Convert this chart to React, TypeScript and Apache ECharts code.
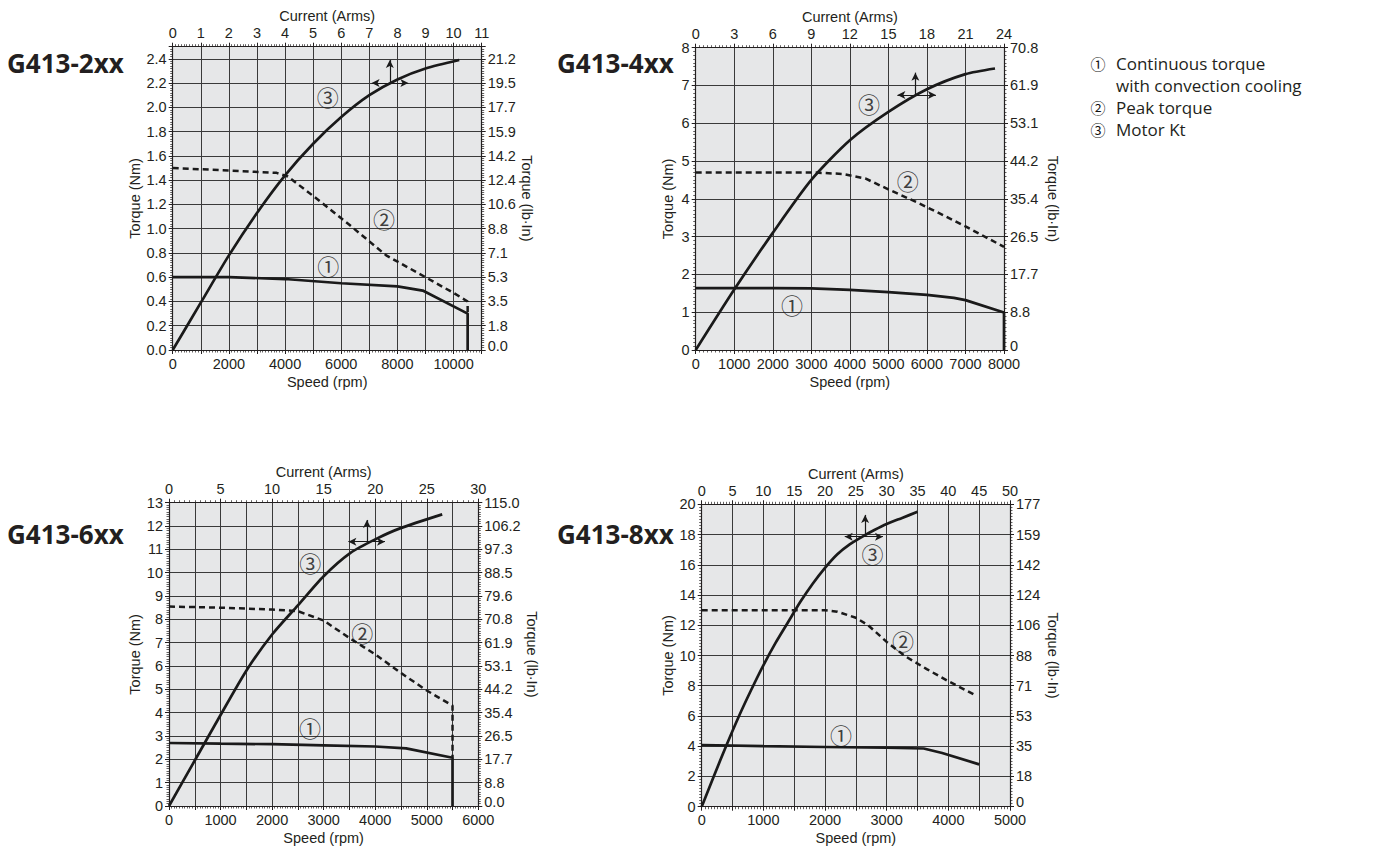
import React, { useEffect, useRef } from 'react';
import * as echarts from 'echarts';

// ---------- data ----------
const chartTitles = ['G413-2xx', 'G413-4xx', 'G413-6xx', 'G413-8xx'];
const speedMax = [11000, 8000, 6000, 5000];
const speedGridStep = [1000, 1000, 500, 500];
const speedLabelStep = [2000, 1000, 1000, 1000];
const currentMax = [11, 24, 30, 50];
const currentStep = [1, 3, 5, 5];
const torqueMax = [2.5, 8, 13, 20];
const torqueStep = [0.2, 1, 1, 2];
const torqueDecimals = [1, 0, 0, 0];

const lbIn2xx = ['0.0', '1.8', '3.5', '5.3', '7.1', '8.8', '10.6', '12.4', '14.2', '15.9', '17.7', '19.5', '21.2'];
const lbIn4xx = ['0', '8.8', '17.7', '26.5', '35.4', '44.2', '53.1', '61.9', '70.8'];
const lbIn6xx = ['0.0', '8.8', '17.7', '26.5', '35.4', '44.2', '53.1', '61.9', '70.8', '79.6', '88.5', '97.3', '106.2', '115.0'];
const lbIn8xx = ['0', '18', '35', '53', '71', '88', '106', '124', '142', '159', '177'];
const lbInLabels = [lbIn2xx, lbIn4xx, lbIn6xx, lbIn8xx];

// [speed rpm, torque Nm]
const cont2xx = [[0, 0.6], [2000, 0.6], [4000, 0.585], [6000, 0.55], [8000, 0.525], [8900, 0.49], [10500, 0.3], [10500, 0]];
const peak2xx = [[0, 1.5], [2000, 1.48], [3700, 1.46], [4100, 1.43], [5000, 1.27], [6300, 1.03], [7600, 0.78], [9000, 0.6], [10000, 0.47], [10500, 0.4], [10500, 0.3]];
// [current A, torque Nm]
const kt2xx = [[0, 0], [1, 0.39], [2, 0.78], [3, 1.13], [4, 1.44], [5, 1.7], [6, 1.92], [7, 2.1], [8, 2.23], [9, 2.32], [10.2, 2.39]];

const cont4xx = [[0, 1.64], [2000, 1.64], [3000, 1.63], [4000, 1.59], [5000, 1.53], [6000, 1.46], [6700, 1.38], [7000, 1.32], [8000, 0.99], [8000, 0]];
const peak4xx = [[0, 4.7], [1000, 4.7], [2000, 4.7], [3000, 4.7], [3800, 4.66], [4400, 4.54], [5000, 4.25], [5800, 3.88], [6500, 3.53], [7000, 3.27], [8000, 2.73]];
const kt4xx = [[0, 0], [3, 1.6], [6, 3.1], [9, 4.5], [12, 5.55], [15, 6.3], [18, 6.9], [21, 7.3], [23.3, 7.45]];

const cont6xx = [[0, 2.7], [1000, 2.67], [2000, 2.65], [3000, 2.6], [4000, 2.55], [4600, 2.47], [5500, 2.07], [5500, 0]];
const peak6xx = [[0, 8.55], [1000, 8.5], [2000, 8.42], [2500, 8.35], [3000, 7.95], [3500, 7.2], [4000, 6.5], [4500, 5.7], [5000, 4.95], [5500, 4.3], [5500, 2.07]];
const kt6xx = [[0, 0], [2.5, 1.95], [5, 3.9], [7.5, 5.8], [10, 7.35], [12.5, 8.6], [15, 9.85], [17.6, 10.85], [20.1, 11.45], [22.4, 11.9], [26.5, 12.5]];

const cont8xx = [[0, 4.08], [1000, 4.0], [2000, 3.95], [3000, 3.9], [3600, 3.85], [3900, 3.55], [4500, 2.8]];
const peak8xx = [[0, 13.0], [1000, 13.0], [2000, 13.0], [2200, 12.9], [2500, 12.5], [2700, 12.0], [3000, 10.9], [3300, 9.95], [3650, 9.1], [4000, 8.3], [4450, 7.35]];
const kt8xx = [[0, 0], [2, 2.05], [4, 4.05], [6, 5.95], [8, 7.7], [10, 9.35], [12, 10.85], [14, 12.2], [16, 13.55], [18, 14.75], [20, 15.8], [22, 16.7], [24, 17.35], [26, 17.85], [28, 18.3], [30, 18.7], [32.5, 19.1], [35, 19.5]];

const contCurves = [cont2xx, cont4xx, cont6xx, cont8xx];
const peakCurves = [peak2xx, peak4xx, peak6xx, peak8xx];
const ktCurves = [kt2xx, kt4xx, kt6xx, kt8xx];

// arrow marker on Kt curve: [current centre, torque, current left, current right, torque top]
const ktArrows = [
  [7.73, 2.2, 7.08, 8.39, 2.39],
  [17.1, 6.75, 15.7, 18.7, 7.34],
  [19.2, 11.33, 17.4, 20.95, 12.26],
  [26.5, 17.86, 23.2, 29.4, 19.3],
];

// circled callouts: ① and ② at [speed, torque], ③ at [current, torque]
const callout1 = [[5536, 0.7], [2500, 1.23], [2734, 3.4], [2258, 4.8]];
const callout2 = [[7524, 1.09], [5505, 4.5], [3749, 7.47], [3265, 11.0]];
const callout3 = [[5.52, 2.09], [13.5, 6.53], [13.7, 10.44], [27.7, 16.76]];

const legendMarks = ['①', '', '②', '③'];
const legendTexts = ['Continuous torque', 'with convection cooling', 'Peak torque', 'Motor Kt'];

// ---------- styling / layout ----------
const INK = '#231f20';
const GRIDC = '#3a3a3a';
const PLOTBG = '#e6e7e8';
const NARROW = "'Liberation Sans Narrow', 'Liberation Sans', Arial, sans-serif";
const SANS = "'Open Sans', 'Noto Sans', sans-serif";
const CIRC = "'Noto Sans CJK JP', 'DejaVu Sans', sans-serif";

const gridBoxes = [
  { left: 172.7, top: 46.7, width: 309, height: 303.3 },
  { left: 695.7, top: 47.7, width: 308.3, height: 302.3 },
  { left: 169, top: 502.7, width: 309.3, height: 303.3 },
  { left: 701.7, top: 504.3, width: 308.3, height: 302.4 },
];
const leftNameGap = [27, 20, 23, 25];
const rightNameGap = [38, 41, 37, 35];
const titlePos = [[7, 63], [557, 63], [7, 534], [557, 534]];

function isMultiple(v: number, step: number) {
  const r = v / step;
  return Math.abs(r - Math.round(r)) < 1e-6;
}

function buildOption() {
  const grid: any[] = [];
  const xAxis: any[] = [];
  const yAxis: any[] = [];
  const series: any[] = [];
  const graphic: any[] = [];

  const labelStyle = { color: INK, fontFamily: NARROW, fontSize: 14.5 };
  const nameStyle = { color: INK, fontFamily: NARROW, fontSize: 14.5 };
  const axisLine = { show: true, onZero: false, lineStyle: { color: INK, width: 1.2 } };
  const axisTick = { show: true, length: 4, lineStyle: { color: INK, width: 1 } };
  const minorTick = { show: true, splitNumber: 10, length: 2.5, lineStyle: { color: INK, width: 0.7 } };

  for (let i = 0; i < 4; i++) {
    grid.push({ ...gridBoxes[i], show: true, backgroundColor: PLOTBG, borderWidth: 0 });

    xAxis.push({
      type: 'value', gridIndex: i, position: 'bottom', min: 0, max: speedMax[i], interval: speedGridStep[i],
      name: 'Speed (rpm)', nameLocation: 'middle', nameGap: 24, nameTextStyle: nameStyle,
      axisLine, axisTick, minorTick,
      axisLabel: { ...labelStyle, margin: 6, formatter: (v: number) => (isMultiple(v, speedLabelStep[i]) ? String(v) : '') },
      splitLine: { show: true, lineStyle: { color: GRIDC, width: 1 } },
    });
    xAxis.push({
      type: 'value', gridIndex: i, position: 'top', min: 0, max: currentMax[i], interval: currentStep[i],
      name: 'Current (Arms)', nameLocation: 'middle', nameGap: 23, nameTextStyle: nameStyle,
      axisLine, axisTick, minorTick,
      axisLabel: { ...labelStyle, margin: 6, formatter: (v: number) => String(v) },
      splitLine: { show: false },
    });
    yAxis.push({
      type: 'value', gridIndex: i, position: 'left', min: 0, max: torqueMax[i], interval: torqueStep[i],
      name: 'Torque (Nm)', nameLocation: 'middle', nameGap: leftNameGap[i], nameTextStyle: nameStyle,
      axisLine, axisTick, minorTick,
      axisLabel: {
        ...labelStyle, margin: 6,
        formatter: (v: number) => (isMultiple(v, torqueStep[i]) ? v.toFixed(torqueDecimals[i]) : ''),
      },
      splitLine: { show: true, lineStyle: { color: GRIDC, width: 1 } },
    });
    yAxis.push({
      type: 'value', gridIndex: i, position: 'right', min: 0, max: torqueMax[i], interval: torqueStep[i],
      name: 'Torque (lb·In)', nameLocation: 'middle', nameGap: rightNameGap[i], nameRotate: -90, nameTextStyle: nameStyle,
      axisLine, axisTick, minorTick,
      axisLabel: {
        ...labelStyle, margin: 6,
        rich: { lo: { ...labelStyle, padding: [0, 0, 9, 0] } },
        formatter: (v: number) => {
          if (!isMultiple(v, torqueStep[i])) return '';
          const t = lbInLabels[i][Math.round(v / torqueStep[i])] ?? '';
          return v === 0 ? '{lo|' + t + '}' : t;
        },
      },
      splitLine: { show: false },
    });

    const xs = 2 * i;
    const xc = 2 * i + 1;
    const yl = 2 * i;
    const lineCommon = { type: 'line', showSymbol: false, symbol: 'none', silent: true, z: 5 };

    series.push({
      ...lineCommon, name: 'cont' + i, xAxisIndex: xs, yAxisIndex: yl, data: contCurves[i],
      lineStyle: { color: '#1a1a1a', width: 2.7, type: 'solid' },
    });
    series.push({
      ...lineCommon, name: 'peak' + i, xAxisIndex: xs, yAxisIndex: yl, data: peakCurves[i],
      lineStyle: { color: '#1a1a1a', width: 2.5, type: [6, 4] },
    });
    const a = ktArrows[i];
    series.push({
      ...lineCommon, name: 'kt' + i, xAxisIndex: xc, yAxisIndex: yl, data: ktCurves[i], smooth: 0.25,
      lineStyle: { color: '#1a1a1a', width: 2.7, type: 'solid' },
      markLine: {
        silent: true, animation: false, symbolSize: [6, 8],
        label: { show: false },
        lineStyle: { color: '#1a1a1a', width: 1.2, type: 'solid' },
        data: [
          [{ coord: [a[2], a[1]], symbol: 'arrow' }, { coord: [a[3], a[1]], symbol: 'arrow' }],
          [{ coord: [a[0], a[1]], symbol: 'none' }, { coord: [a[0], a[4]], symbol: 'arrow' }],
        ],
      },
    });

    const calloutLabel = {
      show: true, position: 'inside', color: '#111', fontFamily: CIRC, fontSize: 22,
      formatter: (p: any) => p.data[2],
    };
    series.push({
      type: 'scatter', xAxisIndex: xs, yAxisIndex: yl, symbolSize: 1, silent: true, z: 6,
      itemStyle: { color: 'rgba(0,0,0,0)' },
      data: [[callout1[i][0], callout1[i][1], '①'], [callout2[i][0], callout2[i][1], '②']],
      label: calloutLabel,
    });
    series.push({
      type: 'scatter', xAxisIndex: xc, yAxisIndex: yl, symbolSize: 1, silent: true, z: 6,
      itemStyle: { color: 'rgba(0,0,0,0)' },
      data: [[callout3[i][0], callout3[i][1], '③']],
      label: calloutLabel,
    });

    graphic.push({
      type: 'text', x: titlePos[i][0], y: titlePos[i][1], silent: true,
      style: { text: chartTitles[i], fill: INK, fontFamily: SANS, fontSize: 26, fontWeight: 'bold', align: 'left', verticalAlign: 'middle' },
    });
  }

  const legendY = [63, 85, 107, 129.5];
  legendTexts.forEach((t, k) => {
    if (legendMarks[k]) {
      graphic.push({
        type: 'text', x: 1098, y: legendY[k], silent: true,
        style: { text: legendMarks[k], fill: '#111', fontFamily: CIRC, fontSize: 15, lineHeight: 16, align: 'center', verticalAlign: 'middle' },
      });
    }
    graphic.push({
      type: 'text', x: 1116, y: legendY[k], silent: true,
      style: { text: t, fill: INK, fontFamily: SANS, fontSize: 17, lineHeight: 20, align: 'left', verticalAlign: 'middle' },
    });
  });

  return { animation: false, backgroundColor: '#ffffff', grid, xAxis, yAxis, series, graphic };
}

export default function App() {
  const ref = useRef<HTMLDivElement>(null);
  useEffect(() => {
    if (!ref.current) return;
    const chart = echarts.init(ref.current, undefined, { renderer: 'svg' });
    chart.setOption(buildOption() as any);
    return () => chart.dispose();
  }, []);
  return (
    <div
      ref={ref}
      style={{ position: 'absolute', left: 0, top: 0, width: 1375, height: 848, background: '#fff' }}
    />
  );
}
